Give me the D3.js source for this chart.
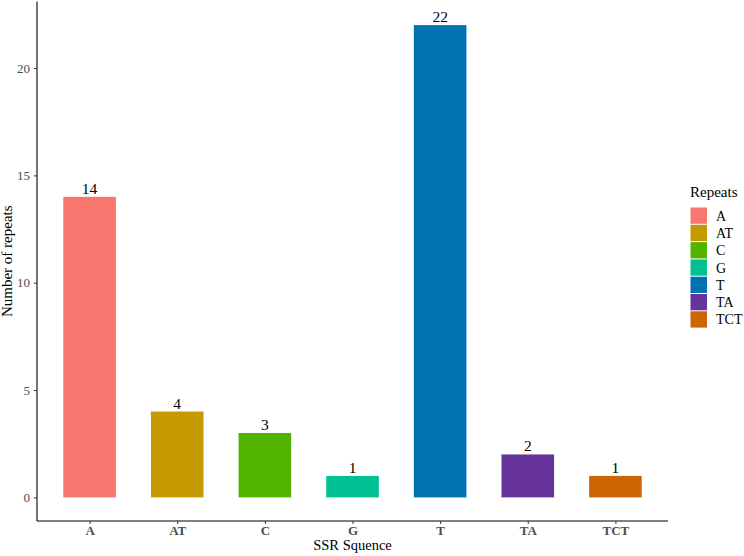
<!DOCTYPE html>
<html>
<head>
<meta charset="utf-8">
<script src="https://cdn.jsdelivr.net/npm/d3@7"></script>
<style>
  body { margin: 0; background: #fff; }
  svg text { font-family: "Liberation Serif", "Times New Roman", serif; }
</style>
</head>
<body>
<div id="chart"></div>
<script>
// data
let categories = ["A", "AT", "C", "G", "T", "TA", "TCT"];
let counts = [14, 4, 3, 1, 22, 2, 1];
let colors = ["#F8766D", "#C49A00", "#53B400", "#00C094", "#0072B2", "#66339A", "#CC6600"];
let yTicks = [0, 5, 10, 15, 20];

let data = categories.map((c, i) => ({cat: c, n: counts[i], col: colors[i]}));

// chart area
let width = 744, height = 556;
let panel = {left: 37, right: 668, top: 1.5, bottom: 521};

let svg = d3.select("#chart").append("svg")
    .attr("width", width)
    .attr("height", height);

// scales (ggplot style expansion)
let x = d3.scaleLinear()
    .domain([0.4, categories.length + 0.6])
    .range([panel.left, panel.right]);

let yMax = d3.max(counts);
let y = d3.scaleLinear()
    .domain([-0.05 * yMax, yMax * 1.05])
    .range([panel.bottom, panel.top]);

let barW = x(0.6) - x(0);

// bars
svg.selectAll(".bar")
    .data(data)
    .enter()
    .append("rect")
    .attr("class", "bar")
    .attr("x", (d, i) => x(i + 1) - barW / 2)
    .attr("y", d => y(d.n))
    .attr("width", barW)
    .attr("height", d => y(0) - y(d.n))
    .attr("fill", d => d.col);

// value labels
svg.selectAll(".val")
    .data(data)
    .enter()
    .append("text")
    .attr("class", "val")
    .attr("x", (d, i) => x(i + 1))
    .attr("y", d => y(d.n) - 3)
    .attr("text-anchor", "middle")
    .attr("font-size", 15.5)
    .attr("fill", "#000")
    .text(d => d.n);

// y axis
let yAxis = d3.axisLeft(y).tickValues(yTicks).tickSize(3).tickPadding(4);
let yG = svg.append("g")
    .attr("transform", "translate(" + panel.left + ",0)")
    .call(yAxis);
yG.select(".domain").attr("d", "M0," + panel.top + "V" + panel.bottom).attr("stroke", "#000").attr("stroke-width", 1.1);
yG.selectAll(".tick line").attr("stroke", "#333");
yG.selectAll(".tick text").attr("font-size", 13).attr("fill", "#4D4D4D")
    .attr("font-family", "Liberation Serif");

// x axis
let xAxis = d3.axisBottom(x).tickValues(d3.range(1, categories.length + 1))
    .tickFormat(d => categories[d - 1]).tickSize(3).tickPadding(2);
let xG = svg.append("g")
    .attr("transform", "translate(0," + panel.bottom + ")")
    .call(xAxis);
xG.select(".domain").attr("d", "M" + panel.left + ",0H" + panel.right).attr("stroke", "#000").attr("stroke-width", 1.1);
xG.selectAll(".tick line").attr("stroke", "#333");
xG.selectAll(".tick text").attr("font-size", 13).attr("font-weight", "bold").attr("fill", "#4D4D4D")
    .attr("font-family", "Liberation Serif");

// axis titles
svg.append("text")
    .attr("x", (panel.left + panel.right) / 2)
    .attr("y", 550)
    .attr("text-anchor", "middle")
    .attr("font-size", 14.5)
    .text("SSR Squence");

svg.append("text")
    .attr("transform", "translate(12," + (panel.top + panel.bottom) / 2 + ") rotate(-90)")
    .attr("text-anchor", "middle")
    .attr("font-size", 15)
    .text("Number of repeats");

// legend
let legend = svg.append("g").attr("transform", "translate(690,207)");
legend.append("text")
    .attr("x", 0)
    .attr("y", -10)
    .attr("font-size", 15)
    .text("Repeats");

let keyH = 17.3;
let keys = legend.selectAll(".key")
    .data(data)
    .enter()
    .append("g")
    .attr("class", "key")
    .attr("transform", (d, i) => "translate(0," + (i * keyH) + ")");

keys.append("rect")
    .attr("x", 0.5)
    .attr("y", 0.5)
    .attr("width", 16.5)
    .attr("height", keyH - 1)
    .attr("fill", d => d.col);

keys.append("text")
    .attr("x", 26)
    .attr("y", keyH / 2 + 5)
    .attr("font-size", 14)
    .text(d => d.cat);
</script>
</body>
</html>
